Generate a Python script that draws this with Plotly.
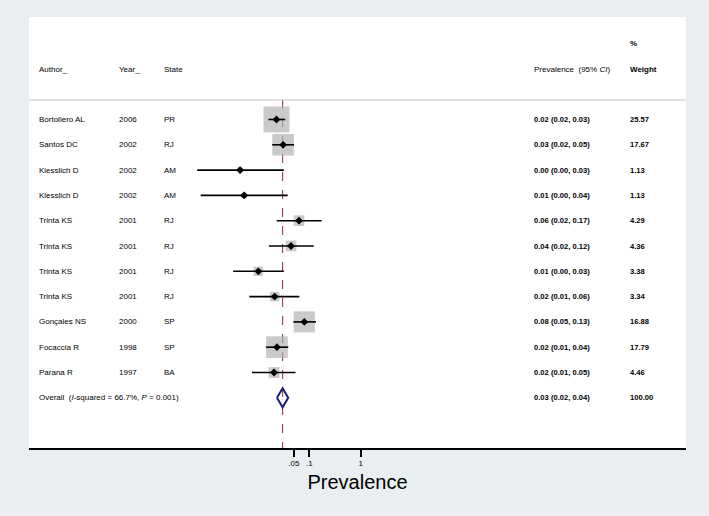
import plotly.graph_objects as go

authors = ["Bortoliero AL", "Santos DC", "Kiesslich D", "Kiesslich D", "Trinta KS", "Trinta KS",
           "Trinta KS", "Trinta KS", "Gonçales NS", "Focaccia R", "Parana R"]
years = ["2006", "2002", "2002", "2002", "2001", "2001", "2001", "2001", "2000", "1998", "1997"]
states = ["PR", "RJ", "AM", "AM", "RJ", "RJ", "RJ", "RJ", "SP", "SP", "BA"]
prev = [0.023, 0.031, 0.0045, 0.0054, 0.063, 0.044, 0.0102, 0.0212, 0.080, 0.0235, 0.0206]
ci_lo = [0.016, 0.019, 0.00066, 0.00077, 0.0232, 0.0164, 0.0033, 0.0068, 0.049, 0.0144, 0.0077]
ci_hi = [0.034, 0.0504, 0.032, 0.038, 0.174, 0.122, 0.032, 0.064, 0.135, 0.039, 0.054]
ci_text = ["0.02 (0.02, 0.03)", "0.03 (0.02, 0.05)", "0.00 (0.00, 0.03)", "0.01 (0.00, 0.04)",
           "0.06 (0.02, 0.17)", "0.04 (0.02, 0.12)", "0.01 (0.00, 0.03)", "0.02 (0.01, 0.06)",
           "0.08 (0.05, 0.13)", "0.02 (0.01, 0.04)", "0.02 (0.01, 0.05)"]
weights = [25.57, 17.67, 1.13, 1.13, 4.29, 4.36, 3.38, 3.34, 16.88, 17.79, 4.46]
overall_est = 0.0303
overall_lo = 0.0235
overall_hi = 0.0389
overall_text = "0.03 (0.02, 0.04)"
overall_weight = "100.00"
overall_label = "Overall  (<i>I</i>-squared = 66.7%, <i>P</i> = 0.001)"
tick_vals = [0.05, 0.1, 1]
tick_text = [".05", ".1", "1"]

n = len(authors)
rows = list(range(n))
oy = n  # overall row index
FONT = "Liberation Sans, Arial, sans-serif"
BG = "#e9eff1"

fig = go.Figure()

# reference dashed line
fig.add_trace(go.Scatter(x=[overall_est, overall_est], y=[-0.77, 13.0], mode="lines",
                         line=dict(color="#8b2a36", width=1, dash="dash"), hoverinfo="skip"))

# weight boxes
fig.add_trace(go.Scatter(x=prev, y=rows, mode="markers",
                         marker=dict(symbol="square", size=[5.14 * w ** 0.5 for w in weights],
                                     color="#b4b4b4", line=dict(width=0)), hoverinfo="skip"))

# CI lines
cx, cy = [], []
for i in range(n):
    cx += [ci_lo[i], ci_hi[i], None]
    cy += [i, i, None]
fig.add_trace(go.Scatter(x=cx, y=cy, mode="lines", line=dict(color="black", width=1.6),
                         hoverinfo="skip"))

# point estimates
fig.add_trace(go.Scatter(x=prev, y=rows, mode="markers",
                         marker=dict(symbol="diamond", size=6, color="black"), hoverinfo="skip"))

# overall diamond
h = 0.375
fig.add_trace(go.Scatter(x=[overall_lo, overall_est, overall_hi, overall_est, overall_lo],
                         y=[oy, oy - h, oy, oy + h, oy], mode="lines",
                         line=dict(color="#1c1c78", width=2), hoverinfo="skip"))

ann = []
def txt(xp, y, s, size=8, bold=False):
    ann.append(dict(x=xp, y=y, xref="paper", yref="y", text=("<b>%s</b>" % s) if bold else s,
                    showarrow=False, xanchor="left", yanchor="middle",
                    font=dict(family=FONT, size=size, color="black")))

X_AUTH, X_YEAR, X_STATE, X_CI, X_W = 0.0117, 0.1335, 0.2029, 0.766, 0.9122
HY = -1.984
NS = 7.6
txt(X_AUTH, HY, "Author_")
txt(X_YEAR, HY, "Year_")
txt(X_STATE, HY, "State")
txt(X_CI, HY, "Prevalence  (95% <i>CI</i>)")
txt(X_W, HY, "Weight", bold=True)
txt(X_W, -3.012, "%", bold=True)
for i in range(n):
    txt(X_AUTH, i, authors[i])
    txt(X_YEAR, i, years[i])
    txt(X_STATE, i, states[i])
    txt(X_CI, i, ci_text[i], size=NS, bold=True)
    txt(X_W, i, "%.2f" % weights[i], size=NS, bold=True)
txt(X_AUTH, oy, overall_label)
txt(X_CI, oy, overall_text, size=NS, bold=True)
txt(X_W, oy, overall_weight, size=NS, bold=True)

fig.update_layout(
    width=709, height=516,
    margin=dict(l=29, r=23, t=17, b=68),
    paper_bgcolor=BG, plot_bgcolor="white",
    showlegend=False,
    font=dict(family=FONT, color="black"),
    annotations=ann,
    shapes=[dict(type="line", xref="paper", yref="y", x0=0, x1=1, y0=-0.771, y1=-0.771,
                 line=dict(color="#c4c4c4", width=1))],
    xaxis=dict(type="log", range=[-6.453, 6.329], showgrid=False, zeroline=False,
               showline=True, linecolor="black", linewidth=1.5,
               ticks="outside", ticklen=7, tickwidth=1.5, tickcolor="black",
               tickvals=tick_vals, ticktext=tick_text, tickfont=dict(size=8),
               title=dict(text="Prevalence", font=dict(size=20), standoff=8)),
    yaxis=dict(range=[12.984, -4.051], showgrid=False, zeroline=False, showline=False,
               showticklabels=False, ticks=""),
)

fig.write_html("out.html", config={"displayModeBar": False},
               post_script="document.body.style.margin='0px';"
                           "document.body.style.background='%s';" % BG)
